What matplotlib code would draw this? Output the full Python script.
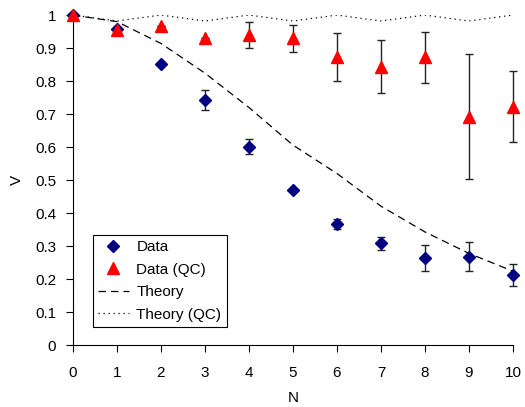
import numpy as np
import matplotlib.pyplot as plt
from matplotlib.lines import Line2D

plt.rcParams['font.family'] = ['Liberation Sans', 'DejaVu Sans']

n = np.arange(0, 11)

# measured visibility
v_data = [1.0, 0.957, 0.851, 0.742, 0.601, 0.47, 0.367, 0.308, 0.264, 0.268, 0.212]
v_data_err = [0.0, 0.0, 0.0, 0.03, 0.022, 0.0, 0.015, 0.019, 0.04, 0.043, 0.033]

# measured with quantum control
v_qc = [1.0, 0.955, 0.967, 0.931, 0.939, 0.929, 0.872, 0.843, 0.872, 0.692, 0.722]
v_qc_err = [0.0, 0.0, 0.0, 0.0, 0.04, 0.04, 0.073, 0.08, 0.077, 0.19, 0.108]

# theory curves
v_theory = [1.0, 0.98, 0.914, 0.824, 0.72, 0.606, 0.52, 0.421, 0.343, 0.278, 0.224]
v_theory_qc = [1.0, 0.982, 1.0, 0.982, 1.0, 0.982, 1.0, 0.982, 1.0, 0.982, 1.0]

fig = plt.figure(figsize=(5.25, 4.07), dpi=100)
ax = fig.add_axes([0.139, 0.152, 0.838, 0.811])

ax.plot(n, v_theory, color='black', linestyle=(0, (6, 4)), linewidth=0.9)
ax.plot(n, v_theory_qc, color='black', linestyle=(0, (1, 3)), linewidth=0.9)

ax.errorbar(n, v_data, yerr=v_data_err, fmt='D', color='#000080', markersize=6,
            ecolor='#222222', elinewidth=1, capsize=3, capthick=1,
            clip_on=False, zorder=3)
ax.errorbar(n, v_qc, yerr=v_qc_err, fmt='^', color='#ff0000', markersize=8.5,
            ecolor='#222222', elinewidth=1, capsize=3, capthick=1,
            clip_on=False, zorder=4)

ax.set_xlim(0, 10)
ax.set_ylim(0, 1)
ax.set_xticks(range(0, 11))
ax.set_yticks(np.arange(0, 1.01, 0.1))
ax.set_yticklabels(['0', '0.1', '0.2', '0.3', '0.4', '0.5', '0.6', '0.7', '0.8', '0.9', '1'])
ax.tick_params(direction='out', length=5, labelsize=11)
ax.tick_params(axis='x', pad=10)
ax.tick_params(axis='y', pad=7)
ax.spines['top'].set_visible(False)
ax.spines['right'].set_visible(False)
ax.set_xlabel('N', fontsize=11, labelpad=8)
ax.set_ylabel('V', fontsize=11, labelpad=8)

handles = [
    Line2D([], [], marker='D', color='#000080', linestyle='none', markersize=6),
    Line2D([], [], marker='^', color='#ff0000', linestyle='none', markersize=8.5),
    Line2D([], [], color='black', linestyle=(0, (6, 4)), linewidth=0.9),
    Line2D([], [], color='black', linestyle=(0, (1, 3)), linewidth=0.9),
]
labels = ['Data', 'Data (QC)', 'Theory', 'Theory (QC)']
leg = ax.legend(handles, labels, loc='lower left', bbox_to_anchor=(0.045, 0.055),
                fontsize=11, fancybox=False, edgecolor='black', framealpha=1,
                handlelength=2, handletextpad=0.5, borderpad=0.35, labelspacing=0.55,
                borderaxespad=0)
leg.get_frame().set_linewidth(0.8)

fig.savefig('out.png', dpi=100)
